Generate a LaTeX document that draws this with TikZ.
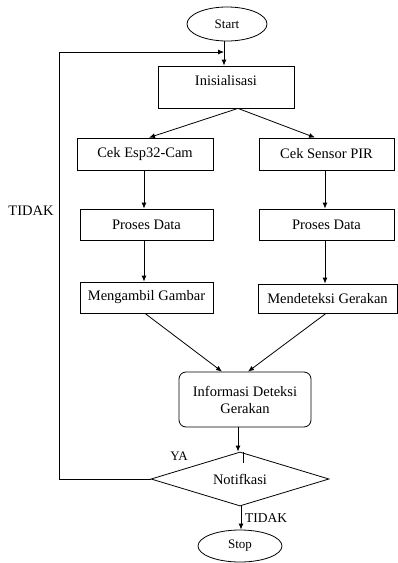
\documentclass[tikz,border=0pt]{standalone}
\usepackage{fontspec}
\setmainfont{Liberation Serif}
\usetikzlibrary{shapes.geometric,arrows.meta}
\begin{document}
\begin{tikzpicture}[x=1pt,y=-1pt,
  font=\fontsize{14.5}{17}\selectfont,
  ln/.style={line width=0.8pt},
  box/.style={draw, ln, inner sep=0pt, minimum width=134pt, minimum height=31pt},
  term/.style={draw, ln, ellipse, inner sep=0pt, font=\fontsize{13}{15}\selectfont},
  arr/.style={ln, -{Latex[length=6pt,width=5pt]}},
  lbl/.style={inner sep=0pt}]
\useasboundingbox (0,0) rectangle (398,563);

\node[term, minimum width=80pt, minimum height=34pt] (start) at (227,24) {Start};
\node[box, minimum width=136pt, minimum height=42pt, text height=11pt, text depth=14pt] (init) at (226,87) {Inisialisasi};
\node[box, minimum width=136pt, minimum height=32pt] (esp) at (145,154) {Cek Esp32-Cam};
\node[box, minimum width=135pt, minimum height=32pt] (pir) at (326.5,154) {Cek Sensor PIR};
\node[box, minimum width=133pt] (pd1) at (146.5,224.5) {Proses Data};
\node[box, minimum width=135pt] (pd2) at (326.5,224.5) {Proses Data};
\node[box, minimum width=133pt] (amb) at (146.5,297.5) {Mengambil Gambar};
\node[box, minimum width=139pt, minimum height=29pt] (det) at (327.5,298.5) {Mendeteksi Gerakan};
\node[draw, ln, rounded corners=7pt, inner sep=0pt, minimum width=132pt, minimum height=55pt, align=center] (info) at (245,399.5) {Informasi Deteksi\\Gerakan};
\node[draw, ln, diamond, shape aspect=3.3, inner sep=0pt, minimum width=178pt, minimum height=54pt] (dec) at (240,479) {Notifkasi};
\node[term, minimum width=84pt, minimum height=32pt] (stop) at (240,546) {Stop};

\coordinate (j) at (224,52);
\coordinate (lc) at (59,479);
\coordinate (ltop) at (59,52);

\draw[arr] (start.south -| j) -- (init.north -| j);
\draw[arr] (dec.west) -- (lc) -- (ltop) -- (j);
\draw[arr] ([xshift=12pt]init.south) -- ([xshift=4pt]esp.north);
\draw[arr] ([xshift=12pt]init.south) -- ([xshift=-11.5pt]pir.north);
\draw[arr] ([xshift=-1pt]esp.south) -- ([xshift=-2.5pt]pd1.north);
\draw[arr] ([xshift=-1.5pt]pir.south) -- ([xshift=-1.5pt]pd2.north);
\draw[arr] ([xshift=-2.5pt]pd1.south) -- ([xshift=-2.5pt]amb.north);
\draw[arr] ([xshift=-1.5pt]pd2.south) -- ([xshift=-2.5pt]det.north);
\draw[arr] ([xshift=-1.5pt]amb.south) -- ([xshift=-23pt]info.north);
\draw[arr] ([xshift=-1.5pt]det.south) -- ([xshift=3pt]info.north);
\draw[arr] ([xshift=-7pt]info.south) -- ([xshift=-2pt]dec.north);
\draw[arr] ([xshift=1pt]dec.south) -- ([xshift=1pt]stop.north);
\draw[ln] (243,452) -- (243,463);

\node[lbl, font=\fontsize{13}{15}\selectfont] (ya) at (179,456) {YA};
\node[lbl] (t1) at (31,211) {TIDAK};
\node[lbl, anchor=west, font=\fontsize{13.5}{15}\selectfont] (t2) at (245,518) {TIDAK};
\end{tikzpicture}
\end{document}
